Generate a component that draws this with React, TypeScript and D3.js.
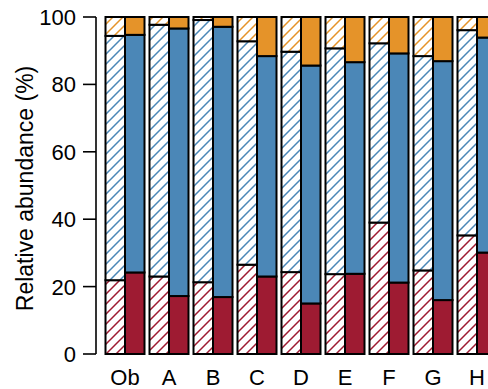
import React from "react";
import * as d3 from "d3";

// Sample groups
const categories = ["Ob", "A", "B", "C", "D", "E", "F", "G", "H"];

// Hatched (left) bar of each group, % per component
const hatchedRed = [21.9, 23.0, 21.3, 26.5, 24.3, 23.7, 39.0, 24.8, 35.2];
const hatchedBlue = [72.5, 74.7, 77.8, 66.3, 65.4, 67.0, 53.2, 63.6, 60.9];
const hatchedOrange = [5.6, 2.3, 0.9, 7.2, 10.3, 9.3, 7.8, 11.6, 3.9];

// Solid (right) bar of each group, % per component
const solidRed = [24.2, 17.2, 16.9, 23.0, 15.0, 23.8, 21.2, 16.0, 30.1];
const solidBlue = [70.5, 79.4, 80.2, 65.4, 70.6, 62.8, 68.0, 70.9, 63.8];
const solidOrange = [5.3, 3.4, 2.9, 11.6, 14.4, 13.4, 10.8, 13.1, 6.1];

const yTicks = [0, 20, 40, 60, 80, 100];
const keys = ["red", "blue", "orange"] as const;
const colors: Record<string, string> = {
  red: "#9E1B32",
  blue: "#4B87B7",
  orange: "#E59329",
};

const W = 488;
const H = 389;
const FONT = "'Liberation Sans', Arial, sans-serif";
const HATCH = 10;

export default function App() {
  const x = d3
    .scaleBand<string>()
    .domain(categories)
    .range([103, 499])
    .paddingInner(5 / 44)
    .paddingOuter(2.5 / 44);
  const xSub = d3
    .scaleBand<string>()
    .domain(["hatched", "solid"])
    .range([0, x.bandwidth()])
    .padding(0);
  const y = d3.scaleLinear().domain([0, 100]).range([354, 17]);

  const rows = (r: number[], b: number[], o: number[]) =>
    categories.map((c, i) => ({ cat: c, red: r[i], blue: b[i], orange: o[i] }));
  const stack = d3.stack<any>().keys(keys as unknown as string[]);
  const bars = [
    { kind: "hatched", series: stack(rows(hatchedRed, hatchedBlue, hatchedOrange)) },
    { kind: "solid", series: stack(rows(solidRed, solidBlue, solidOrange)) },
  ];

  const h = HATCH;

  return (
    <svg
      width={W}
      height={H}
      style={{ position: "fixed", left: 0, top: 0, background: "#fff" }}
      fontFamily={FONT}
    >
      <defs>
        {keys.map((k) => (
          <pattern
            key={k}
            id={`hatch-${k}`}
            patternUnits="userSpaceOnUse"
            width={h}
            height={h}
          >
            <rect width={h} height={h} fill="#fff" />
            <path
              d={`M-2,2 L2,-2 M0,${h} L${h},0 M${h - 2},${h + 2} L${h + 2},${h - 2}`}
              stroke={colors[k]}
              strokeWidth={1.5}
            />
          </pattern>
        ))}
      </defs>

      {/* stacked bars */}
      {bars.map((bar) =>
        bar.series.map((s) =>
          s.map((d, i) => {
            const cat = categories[i];
            const x0 = (x(cat) ?? 0) + (xSub(bar.kind) ?? 0);
            return (
              <rect
                key={`${bar.kind}-${s.key}-${cat}`}
                x={x0}
                y={y(d[1])}
                width={xSub.bandwidth()}
                height={y(d[0]) - y(d[1])}
                fill={bar.kind === "hatched" ? `url(#hatch-${s.key})` : colors[s.key]}
                stroke="#000"
                strokeWidth={2}
              />
            );
          })
        )
      )}

      {/* y axis */}
      <g stroke="#000" strokeWidth={1.6} fill="none">
        <line x1={96} x2={96} y1={y(0)} y2={y(100)} />
        {yTicks.map((t) => (
          <line key={t} x1={83} x2={96} y1={y(t)} y2={y(t)} />
        ))}
      </g>
      {yTicks.map((t) => (
        <text
          key={t}
          x={76}
          y={y(t)}
          dy="0.36em"
          textAnchor="end"
          fontSize={22}
          fill="#000"
        >
          {t}
        </text>
      ))}
      <text
        transform={`translate(33, ${(y(0) + y(100)) / 2 + 3}) rotate(-90)`}
        textAnchor="middle"
        fontSize={23}
        fill="#000"
      >
        Relative abundance (%)
      </text>

      {/* group labels */}
      {categories.map((c) => (
        <text
          key={c}
          x={(x(c) ?? 0) + x.bandwidth() / 2}
          y={385}
          textAnchor="middle"
          fontSize={22}
          fill="#000"
        >
          {c}
        </text>
      ))}
    </svg>
  );
}
